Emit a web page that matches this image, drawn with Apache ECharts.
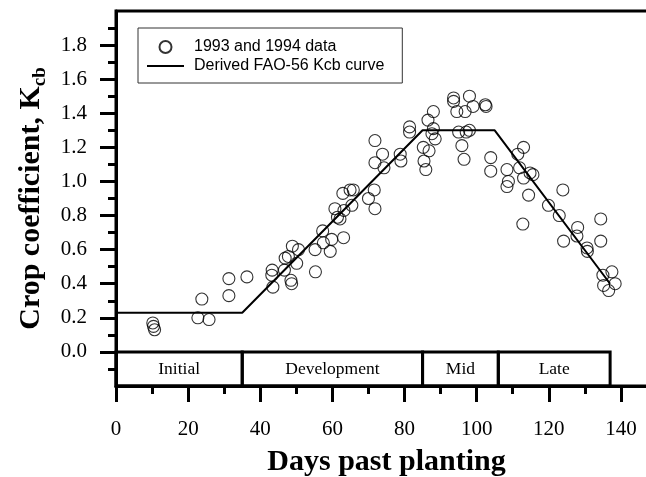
<!DOCTYPE html>
<html><head><meta charset="utf-8">
<script src="https://cdn.jsdelivr.net/npm/echarts@6/dist/echarts.min.js"></script>
<style>html,body{margin:0;padding:0;background:#fff}#c{width:646px;height:477px}</style>
</head><body><div id="c"></div>
<script>
// Observed data (days past planting, Kcb)
const obsDays = [10.2,10.4,10.7,22.7,23.8,25.8,31.3,31.3,36.3,43.3,43.2,43.5,46.7,46.9,47.8,48.9,48.5,48.7,50.1,50.6,
  55.2,55.3,57.3,57.5,59.4,59.8,63.1,60.7,61.4,62.1,63.2,65.4,62.9,64.9,65.8,70.0,71.6,71.8,71.8,73.9,
  71.8,74.3,78.8,79.0,81.4,81.4,88.0,86.5,88.0,87.6,88.5,85.2,86.8,85.4,85.9,93.6,93.6,94.5,96.8,98.0,
  99.0,102.4,102.6,95.0,97.1,98.0,95.9,96.5,103.9,103.9,108.4,108.8,108.4,111.4,113.0,111.9,113.0,114.8,115.6,114.4,
  123.9,119.9,122.9,112.8,128.0,127.8,124.1,130.6,130.7,134.4,134.4,135.0,137.5,138.4,135.2,136.6];
const obsKcb = [0.17,0.15,0.13,0.20,0.31,0.19,0.43,0.33,0.44,0.48,0.45,0.38,0.48,0.55,0.56,0.62,0.42,0.40,0.52,0.60,
  0.60,0.47,0.71,0.64,0.59,0.66,0.67,0.84,0.79,0.78,0.83,0.86,0.93,0.95,0.95,0.90,0.95,0.84,1.24,1.16,
  1.11,1.08,1.16,1.12,1.32,1.29,1.41,1.36,1.31,1.28,1.25,1.20,1.18,1.12,1.07,1.49,1.47,1.41,1.41,1.50,
  1.44,1.45,1.44,1.29,1.29,1.30,1.21,1.13,1.14,1.06,1.07,1.00,0.97,1.16,1.20,1.08,1.02,1.05,1.04,0.92,
  0.95,0.86,0.80,0.75,0.73,0.68,0.65,0.61,0.59,0.78,0.65,0.45,0.47,0.40,0.39,0.36];
// Derived FAO-56 Kcb curve
const curveDays = [0, 35, 85, 105, 137];
const curveKcb = [0.23, 0.23, 1.30, 1.30, 0.40];
// Growth stages
const stageNames = ['Initial', 'Development', 'Mid', 'Late'];
const stageStart = [0, 35, 85, 106];
const stageEnd = [35, 85, 106, 137];
// Ticks
const yMajorTicks = [0, 0.2, 0.4, 0.6, 0.8, 1.0, 1.2, 1.4, 1.6, 1.8];
const yMinorTicks = [-0.1, 0.1, 0.3, 0.5, 0.7, 0.9, 1.1, 1.3, 1.5, 1.7, 1.9];

const serif = 'Liberation Serif';
const sans = 'Liberation Sans';
const chart = echarts.init(document.getElementById('c'), null, {renderer: 'canvas'});
const blk = {color: '#000', width: 3};
const option = {
  animation: false,
  grid: {left: 116, top: 11, width: 541, height: 375, show: true, borderColor: '#000', borderWidth: 3,
    containLabel: false, outerBoundsMode: 'none'},
  legend: {
    left: 138, top: 28, orient: 'vertical', itemWidth: 37, itemHeight: 12, itemGap: 3,
    padding: [11, 18, 9, 9], borderColor: '#333', borderWidth: 1, backgroundColor: '#fff',
    textStyle: {fontFamily: sans, fontSize: 16, color: '#000', padding: [0, 0, 0, 5]},
    data: [
      {name: '1993 and 1994 data'},
      {name: 'Derived FAO-56 Kcb curve', icon: 'path://M0,0H37V2H0Z'}
    ]
  },
  xAxis: {
    type: 'value', min: 0, max: 150, interval: 20,
    axisLine: {show: true, onZero: false, lineStyle: blk},
    axisTick: {show: true, length: 16, lineStyle: blk},
    minorTick: {show: true, splitNumber: 2, length: 8, lineStyle: blk},
    splitLine: {show: false}, minorSplitLine: {show: false},
    axisLabel: {margin: 33, fontFamily: serif, fontSize: 21, color: '#000', showMaxLabel: false},
    name: 'Days past planting', nameLocation: 'middle', nameGap: 61,
    nameTextStyle: {fontFamily: serif, fontSize: 30, fontWeight: 'bold', color: '#000'}
  },
  yAxis: [{
    type: 'value', min: -0.2, max: 2.0, position: 'left',
    axisLine: {show: true, onZero: false, lineStyle: blk},
    axisTick: {show: true, customValues: yMajorTicks, length: 16, lineStyle: blk},
    axisLabel: {customValues: yMajorTicks, formatter: v => Number(v).toFixed(1), margin: 29,
      fontFamily: serif, fontSize: 21, color: '#000'},
    splitLine: {show: false},
    name: '{a|Crop coefficient, K}{b|cb}', nameLocation: 'middle', nameRotate: 90, nameGap: 63,
    nameTextStyle: {rich: {
      a: {fontFamily: serif, fontSize: 30, fontWeight: 'bold', lineHeight: 38, color: '#000'},
      b: {fontFamily: serif, fontSize: 19, fontWeight: 'bold', lineHeight: 19, verticalAlign: 'bottom', color: '#000'}
    }}
  }, {
    type: 'value', min: -0.2, max: 2.0, position: 'left',
    axisLine: {show: false},
    axisTick: {show: true, customValues: yMinorTicks, length: 8, lineStyle: blk},
    axisLabel: {show: false}, splitLine: {show: false}
  }],
  series: [{
    type: 'custom', name: 'stages', clip: false, silent: true,
    encode: {x: [0, 1]},
    data: stageStart.map((s, i) => [s, stageEnd[i]]),
    renderItem: (params, api) => {
      const i = params.dataIndex;
      const p0 = api.coord([api.value(0), 0]);
      const p1 = api.coord([api.value(1), -0.2]);
      return {type: 'group', children: [
        {type: 'rect', shape: {x: p0[0], y: p0[1], width: p1[0] - p0[0], height: p1[1] - p0[1]},
          style: {fill: 'none', stroke: '#000', lineWidth: 3}},
        {type: 'text', style: {text: stageNames[i], x: (p0[0] + p1[0]) / 2, y: (p0[1] + p1[1]) / 2,
          align: 'center', verticalAlign: 'middle', fontFamily: serif, fontSize: 17.5, fill: '#000'}}
      ]};
    }
  }, {
    type: 'line', name: 'Derived FAO-56 Kcb curve', symbol: 'none', showSymbol: false,
    data: curveDays.map((d, i) => [d, curveKcb[i]]),
    lineStyle: {color: '#000', width: 2}, itemStyle: {color: '#000'}, z: 3
  }, {
    type: 'scatter', name: '1993 and 1994 data', symbol: 'circle', symbolSize: 12,
    data: obsDays.map((d, i) => [d, obsKcb[i]]),
    itemStyle: {color: 'rgba(255,255,255,0)', borderColor: '#000', borderWidth: 1.1}, z: 4
  }]
};
chart.setOption(option);
</script></body></html>
